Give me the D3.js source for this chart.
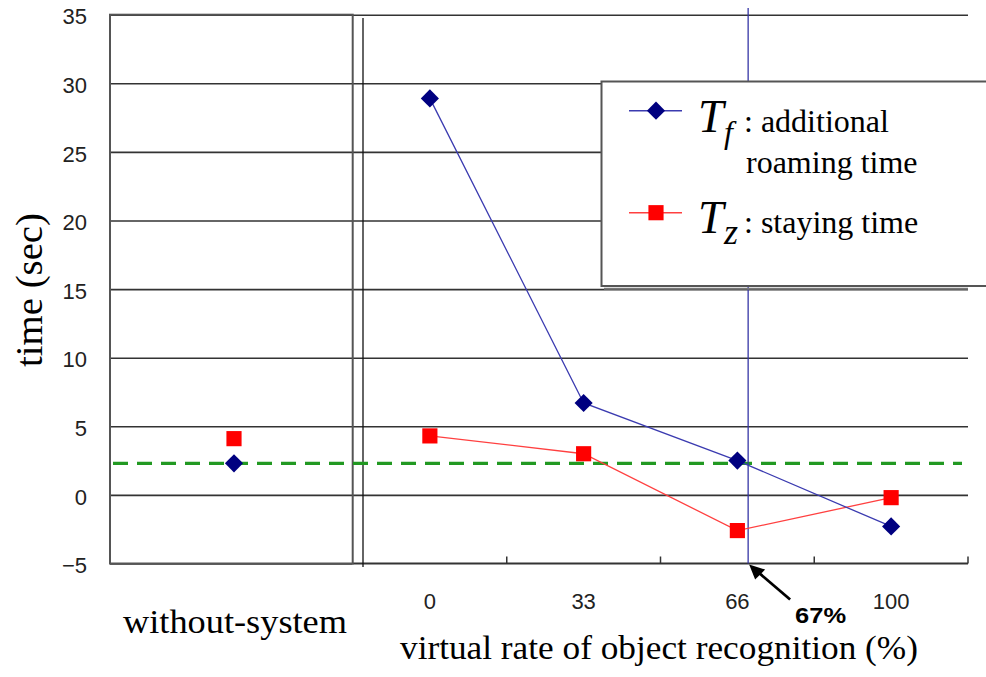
<!DOCTYPE html>
<html>
<head>
<meta charset="utf-8">
<script src="https://cdn.jsdelivr.net/npm/d3@7"></script>
<style>
  body { margin: 0; background: #fff; }
  svg { display: block; }
  .serif { font-family: "Liberation Serif", "Times New Roman", serif; fill: #000; }
  .sans { font-family: "Liberation Sans", Arial, sans-serif; fill: #222; }
</style>
</head>
<body>
<svg id="grafico" width="986" height="677"></svg>
<script>
// valores
var rates = ["0", "33", "66", "100"];
var roamTime = [28.9, 6.7, 2.5, -2.3];   // Tf: additional roaming time
var stayTime = [4.3, 3.0, -2.6, -0.2];   // Tz: staying time
var withoutLabel = "without-system";
var withoutRoam = 2.3;
var withoutStay = 4.1;
var baseTime = 2.3;                       // linea verde punteada
var yTicks = [35, 30, 25, 20, 15, 10, 5, 0, -5];
var markRate = 69;                        // donde cae la linea vertical azul
var markLabel = "67%";

var svg = d3.select("#grafico");

var y = d3.scaleLinear().domain([-5, 35]).range([563.5, 14.7]);
var xL = d3.scaleBand().domain([withoutLabel]).range([110, 358]);
var xR = d3.scaleBand().domain(rates).range([353, 968]);
var bw = xR.bandwidth();
var cx = function (r) { return xR(r) + bw / 2; };
var xRate = d3.scaleLinear().domain([0, 100]).range([cx("0"), cx("100")]);

var GRID = "#333";

// panel izquierdo: grilla + etiquetas del eje y
var ejeL = svg.append("g")
  .attr("transform", "translate(110,0)")
  .call(d3.axisLeft(y).tickValues(yTicks).tickSize(-242.7).tickPadding(23)
    .tickFormat(function (d) { return d < 0 ? "\u2212" + Math.abs(d) : d; }));
ejeL.select(".domain").remove();
ejeL.selectAll("line").attr("stroke", GRID).attr("stroke-width", 1.6);
ejeL.selectAll("text").attr("class", "sans").attr("font-size", 22).attr("dy", "0.42em");

// panel derecho: grilla sin etiquetas
var ejeR = svg.append("g")
  .attr("transform", "translate(353,0)")
  .call(d3.axisLeft(y).tickValues(yTicks.filter(function (d) { return d >= 0; }))
    .tickSize(-(968 - 353)).tickFormat(""));
ejeR.select(".domain").remove();
ejeR.selectAll("line").attr("stroke", GRID).attr("stroke-width", 1.6);

// eje inferior derecho con marcas hacia arriba en los limites de banda
var yb = y(-5);
svg.append("line").attr("x1", 353).attr("x2", 968).attr("y1", yb).attr("y2", yb)
  .attr("stroke", GRID).attr("stroke-width", 2);
svg.append("g").selectAll("line")
  .data(rates)
  .enter().append("line")
  .attr("x1", function (r) { return xR(r) + bw; })
  .attr("x2", function (r) { return xR(r) + bw; })
  .attr("y1", yb).attr("y2", yb - 7)
  .attr("stroke", GRID).attr("stroke-width", 1.5);

svg.append("g").selectAll("text")
  .data(rates)
  .enter().append("text")
  .attr("class", "sans")
  .attr("font-size", 22)
  .attr("text-anchor", "middle")
  .attr("x", cx)
  .attr("y", 609)
  .text(function (r) { return r; });

// bordes de paneles
svg.append("rect")
  .attr("x", 110).attr("y", y(35)).attr("width", 242.7).attr("height", y(-5) - y(35))
  .attr("fill", "none").attr("stroke", "#555").attr("stroke-width", 2);
svg.append("line").attr("x1", 363).attr("x2", 363).attr("y1", 18).attr("y2", 567)
  .attr("stroke", "#111").attr("stroke-width", 1.3);

// linea verde de referencia
svg.append("line")
  .attr("x1", 113).attr("x2", 962)
  .attr("y1", y(baseTime)).attr("y2", y(baseTime))
  .attr("stroke", "#229922").attr("stroke-width", 3.2)
  .attr("stroke-dasharray", "15,9");

// linea vertical azul
var mx = xRate(markRate);
svg.append("line")
  .attr("x1", mx).attr("x2", mx).attr("y1", 8).attr("y2", yb)
  .attr("stroke", "#3535a5").attr("stroke-width", 1.3);

// series
var diamante = d3.symbol().type(d3.symbolSquare).size(165);
var cuadrado = d3.symbol().type(d3.symbolSquare).size(230);

function serie(vals, colorLinea, colorPunto, forma, rot) {
  var linea = d3.line()
    .x(function (d, i) { return cx(rates[i]); })
    .y(function (d) { return y(d); });
  svg.append("path").datum(vals)
    .attr("d", linea).attr("fill", "none")
    .attr("stroke", colorLinea).attr("stroke-width", 1.3);
  svg.append("g").selectAll("path")
    .data(vals)
    .enter().append("path")
    .attr("d", forma)
    .attr("fill", colorPunto)
    .attr("transform", function (d, i) {
      return "translate(" + cx(rates[i]) + "," + y(d) + ") rotate(" + rot + ")";
    });
}
serie(stayTime, "#ff4040", "#ff0000", cuadrado, 0);
serie(roamTime, "#3b3bb0", "#000080", diamante, 45);

// puntos del panel sin sistema
var lx = xL(withoutLabel) + xL.bandwidth() / 2;
svg.append("path").attr("d", cuadrado).attr("fill", "#ff0000")
  .attr("transform", "translate(" + lx + "," + y(withoutStay) + ")");
svg.append("path").attr("d", diamante).attr("fill", "#000080")
  .attr("transform", "translate(" + lx + "," + y(withoutRoam) + ") rotate(45)");

// leyenda
var ley = svg.append("g");
ley.append("line").attr("x1", 604).attr("x2", 968).attr("y1", 288.7).attr("y2", 288.7)
  .attr("stroke", "#777").attr("stroke-width", 2);
ley.append("rect").attr("x", 601.5).attr("y", 81.5).attr("width", 420).attr("height", 204.5)
  .attr("fill", "#fff").attr("stroke", "#555").attr("stroke-width", 2);

ley.append("line").attr("x1", 629).attr("x2", 682).attr("y1", 110.7).attr("y2", 110.7)
  .attr("stroke", "#3b3bb0").attr("stroke-width", 1.5);
ley.append("path").attr("d", diamante).attr("fill", "#000080")
  .attr("transform", "translate(656,110.7) rotate(45)");
ley.append("line").attr("x1", 629).attr("x2", 682).attr("y1", 212.7).attr("y2", 212.7)
  .attr("stroke", "#ff4040").attr("stroke-width", 1.5);
ley.append("path").attr("d", cuadrado).attr("fill", "#ff0000")
  .attr("transform", "translate(656,212.7)");

// T con subindice y el texto en un solo <text>
function entrada(yy, sub, subSize, resto) {
  var t = ley.append("text").attr("class", "serif").attr("x", 698).attr("y", yy);
  t.append("tspan").attr("font-style", "italic").attr("font-size", 46).text("T");
  t.append("tspan").attr("font-style", "italic").attr("font-size", subSize)
    .attr("x", 724).attr("dy", 11).text(sub);
  t.append("tspan").attr("font-size", 32).attr("x", 744).attr("y", yy).text(resto);
}
entrada(131.7, "f", 32, ": additional");
entrada(233.3, "z", 36, ": staying time");
ley.append("text").attr("class", "serif").attr("font-size", 32)
  .attr("x", 746).attr("y", 173.3).text("roaming time");

// flecha y etiqueta del 67%
svg.append("line")
  .attr("x1", mx + 42).attr("y1", yb + 36).attr("x2", mx + 8).attr("y2", yb + 7)
  .attr("stroke", "#000").attr("stroke-width", 2.8);
svg.append("path")
  .attr("d", "M" + (mx + 1) + "," + (yb + 1) + " l16,5 l-10,10 z")
  .attr("fill", "#000");
svg.append("text")
  .attr("font-family", "Liberation Sans, Arial, sans-serif")
  .attr("font-weight", "bold").attr("font-size", 22)
  .attr("x", mx + 47).attr("y", 622.5)
  .attr("textLength", 51).attr("lengthAdjust", "spacingAndGlyphs")
  .text(markLabel);

// titulos de ejes
svg.append("text").attr("class", "serif").attr("font-size", 38)
  .attr("text-anchor", "middle")
  .attr("transform", "translate(42,290) rotate(-90)")
  .attr("textLength", 154).attr("lengthAdjust", "spacingAndGlyphs")
  .text("time (sec)");
svg.append("text").attr("class", "serif").attr("font-size", 34)
  .attr("text-anchor", "middle")
  .attr("x", 235).attr("y", 633)
  .attr("textLength", 224).attr("lengthAdjust", "spacingAndGlyphs")
  .text(withoutLabel);
svg.append("text").attr("class", "serif").attr("font-size", 34)
  .attr("x", 400).attr("y", 659)
  .attr("textLength", 518).attr("lengthAdjust", "spacingAndGlyphs")
  .text("virtual rate of object recognition (%)");
</script>
</body>
</html>
